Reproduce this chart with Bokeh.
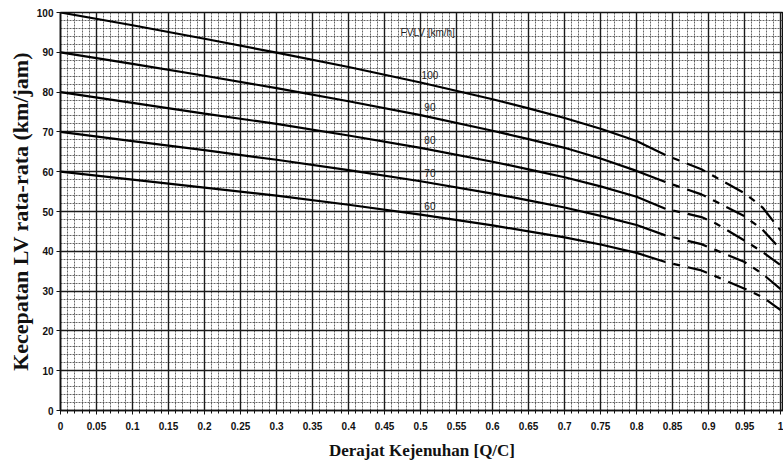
import numpy as np
from bokeh.plotting import figure
from bokeh.models import Range1d, FixedTicker, Label, Title
from bokeh.core.properties import value
from bokeh.embed import file_html
from bokeh.resources import INLINE

# ---- data ----
qc_solid = [0.0, 0.1, 0.2, 0.3, 0.4, 0.5, 0.6, 0.65, 0.7, 0.75, 0.8, 0.84]
qc_dashed = [0.84, 0.89, 0.91, 0.95, 0.975, 1.0]

fv100_solid = [100, 96.8, 93.4, 89.9, 86.3, 82.4, 78.2, 75.9, 73.5, 70.8, 67.7, 64.2]
fv90_solid = [90, 87.1, 84.1, 81.0, 77.7, 74.2, 70.3, 68.2, 66.0, 63.3, 60.2, 57.4]
fv80_solid = [80, 77.3, 74.6, 72.0, 69.1, 66.0, 62.5, 60.6, 58.6, 56.3, 53.7, 50.7]
fv70_solid = [70, 67.7, 65.4, 63.0, 60.4, 57.6, 54.5, 52.8, 51.0, 48.9, 46.6, 44.0]
fv60_solid = [60, 58.0, 56.0, 54.0, 51.7, 49.2, 46.5, 45.0, 43.5, 41.7, 39.6, 37.3]

fv100_dashed = [64.2, 60.6, 58.6, 54.6, 51.0, 45.2]
fv90_dashed = [57.4, 54.3, 52.5, 48.8, 45.4, 40.5]
fv80_dashed = [50.7, 48.6, 47.0, 42.7, 39.8, 36.5]
fv70_dashed = [44.0, 41.8, 40.3, 37.3, 34.3, 30.5]
fv60_dashed = [37.3, 35.2, 33.7, 30.6, 28.5, 25.2]

fv_labels = ["100", "90", "80", "70", "60"]
legend_title = "FVLV [km/h]"

x_ticks = [0, 0.05, 0.1, 0.15, 0.2, 0.25, 0.3, 0.35, 0.4, 0.45, 0.5,
           0.55, 0.6, 0.65, 0.7, 0.75, 0.8, 0.85, 0.9, 0.95, 1.0]
x_tick_labels = ["0", "0.05", "0.1", "0.15", "0.2", "0.25", "0.3", "0.35", "0.4",
                 "0.45", "0.5", "0.55", "0.6", "0.65", "0.7", "0.75", "0.8",
                 "0.85", "0.9", "0.95", "1"]
y_ticks = [0, 10, 20, 30, 40, 50, 60, 70, 80, 90, 100]

x_label = "Derajat Kejenuhan [Q/C]"
y_label = "Kecepatan LV rata-rata (km/jam)"

solid_series = [fv100_solid, fv90_solid, fv80_solid, fv70_solid, fv60_solid]
dashed_series = [fv100_dashed, fv90_dashed, fv80_dashed, fv70_dashed, fv60_dashed]

# ---- figure ----
p = figure(width=783, height=467, x_range=Range1d(0, 1.004), y_range=Range1d(0, 100),
           output_backend="svg", toolbar_location=None,
           min_border_left=60, min_border_right=0, min_border_top=12, min_border_bottom=57)
p.background_fill_color = "white"
p.border_fill_color = "white"
p.outline_line_color = "#111111"
p.outline_line_width = 1.5

minor_x = [i / 100 for i in range(0, 101)]
p.xaxis.ticker = FixedTicker(ticks=x_ticks, minor_ticks=minor_x)
p.xaxis.major_label_overrides = {t: l for t, l in zip(x_ticks, x_tick_labels)}
p.yaxis.ticker = FixedTicker(ticks=y_ticks, minor_ticks=[i for i in range(0, 101, 2)])

for g in (p.xgrid, p.ygrid):
    g.grid_line_color = "#1a1a1a"
    g.grid_line_width = 1.4
    g.minor_grid_line_color = "#333333"
    g.minor_grid_line_width = 1
    g.minor_grid_line_dash = "2 1"
    g.minor_grid_line_alpha = 0.75

for ax in (p.xaxis, p.yaxis):
    ax.axis_line_color = "#111111"
    ax.axis_line_width = 1.6
    ax.major_tick_line_color = "#111111"
    ax.major_tick_in = 0
    ax.major_tick_out = 4
    ax.minor_tick_in = 0
    ax.major_label_text_font = "Liberation Sans"
    ax.major_label_text_font_size = "10px"
    ax.major_label_text_font_style = "bold"
    ax.major_label_text_color = "#111111"
    ax.axis_label_text_font = "Liberation Serif"
    ax.axis_label_text_font_style = "bold"
    ax.axis_label_text_color = "#111111"

p.xaxis.minor_tick_out = 3
p.xaxis.minor_tick_line_color = "#111111"
p.xaxis.major_label_standoff = 7
p.xaxis.axis_label = x_label
p.xaxis.axis_label_text_font_size = "17px"
p.xaxis.axis_label_standoff = 8

p.yaxis.minor_tick_out = 0
p.yaxis.major_label_standoff = 3

# y-axis title as a side title, shifted up a little like the reference
p.add_layout(Title(text=y_label, align="center", offset=27, standoff=2,
                   text_font="Liberation Serif", text_font_style="bold",
                   text_font_size="22px", text_color="#111111"), "left")

for s in solid_series:
    p.line(qc_solid, s, line_color="black", line_width=2.2)
for d in dashed_series:
    p.line(qc_dashed, d, line_color="black", line_width=2.2,
           line_dash="20 8 7 8", line_dash_offset=20)

lx = 0.513
lab_y = [float(np.interp(lx, qc_solid, s)) for s in solid_series]
p.text(x=[lx] * len(fv_labels), y=lab_y, text=fv_labels,
       text_font=value("Liberation Sans"), text_font_size="10px",
       text_color="#222222", text_align="center", text_baseline="bottom", y_offset=-6)

p.add_layout(Label(x=0.51, y=95.0, text=legend_title, text_font="Liberation Sans",
                   text_font_size="10px", text_color="#222222",
                   text_align="center", text_baseline="middle"))

open("out.html", "w").write(file_html(p, INLINE))
